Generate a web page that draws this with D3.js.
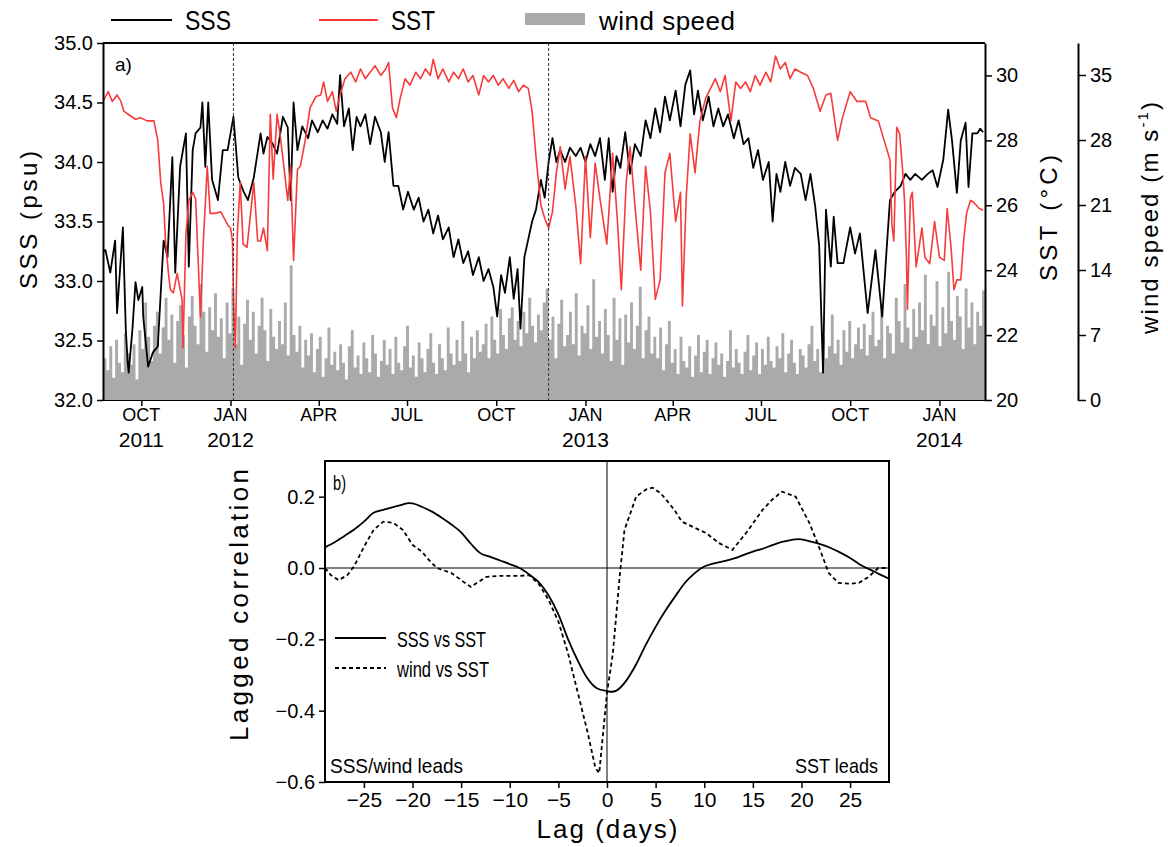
<!DOCTYPE html>
<html>
<head>
<meta charset="utf-8">
<script src="https://cdn.jsdelivr.net/npm/d3@7"></script>
<style>
body { margin: 0; background: #fff; }
text { font-family: "Liberation Sans", Arial, sans-serif; fill: #000; }
</style>
</head>
<body>
<svg id="chart" width="1168" height="847"></svg>
<script>
// ---- data: panel a (day offset from 2011-08-23, value) ----
const startDay = new Date(2011, 7, 23);

const sssObs = [
  [0,33.25],[2,33.26],[7,33.07],[12,33.34],[14,32.73],[20,33.45],[23,32.59],[25,32.31],[26,32.23],
  [30,32.61],[33,32.99],[36,32.84],[40,32.95],[41,32.70],[46,32.28],[51,32.40],[56,32.45],[62,33.34],
  [66,33.20],[71,34.04],[74,33.07],[79,33.96],[85,34.24],[88,33.12],[92,34.10],[95,34.24],[100,34.29],
  [102,34.50],[105,33.96],[108,34.50],[112,33.85],[118,33.68],[123,34.10],[128,34.10],[134,34.38],
  [139,33.87],[144,33.76],[149,33.68],[155,33.87],[162,34.24],[165,34.07],[169,34.21],[174,34.16],
  [179,34.07],[185,34.38],[190,34.29],[193,33.68],[196,34.50],[200,34.10],[205,34.30],[211,34.20],
  [215,34.35],[221,34.25],[226,34.35],[231,34.28],[236,34.40],[241,34.32],[244,34.73],[248,34.30],
  [253,34.45],[257,34.10],[261,34.38],[265,34.30],[270,34.40],[275,34.15],[280,34.38],[286,34.25],
  [290,34.00],[294,34.25],[299,33.80],[304,33.80],[309,33.60],[314,33.75],[320,33.60],[325,33.70],
  [330,33.50],[335,33.60],[340,33.40],[345,33.55],[350,33.35],[356,33.45],[361,33.20],[366,33.35],
  [371,33.15],[376,33.25],[381,33.05],[387,33.20],[392,33.00],[397,33.10],[402,32.95],[406,32.70],
  [410,33.05],[414,32.90],[419,33.20],[423,32.85],[427,33.10],[430,32.60],[434,33.20],[438,33.35],
  [442,33.50],[446,33.60],[451,33.85],[455,33.70],[459,34.00],[463,34.20],[467,34.00],[471,34.10],
  [476,34.00],[481,34.12],[487,34.05],[492,34.12],[497,34.00],[502,34.15],[507,34.05],[512,34.20],
  [517,33.85],[521,34.20],[525,33.75],[529,34.05],[533,33.95],[538,34.25],[543,33.90],[548,34.15],
  [554,34.05],[559,34.35],[564,34.20],[569,34.45],[574,34.25],[579,34.55],[584,34.35],[590,34.60],
  [595,34.30],[600,34.65],[605,34.77],[609,34.40],[613,34.60],[618,34.35],[624,34.55],[629,34.30],
  [634,34.45],[639,34.30],[644,34.40],[650,34.20],[655,34.35],[660,34.15],[665,34.20],[670,33.95],
  [675,34.10],[680,33.85],[686,34.00],[690,33.50],[694,33.90],[698,33.75],[703,34.00],[708,33.80],
  [713,33.95],[719,33.90],[724,33.68],[729,33.90],[734,33.62],[738,33.30],[742,32.23],[745,33.60],
  [750,33.12],[753,33.54],[757,33.15],[763,33.15],[770,33.45],[775,33.23],[780,33.40],[788,32.73],
  [796,33.26],[803,32.70],[808,33.32],[811,33.68],[816,33.75],[822,33.80],[827,33.90],[832,33.85],
  [837,33.90],[844,33.85],[850,33.90],[855,33.93],[860,33.79],[866,34.02],[871,34.44],[875,34.18],
  [880,33.74],[884,34.18],[889,34.33],[892,33.79],[896,34.24],[901,34.24],[904,34.28],[907,34.25]
];

const sstObs = [
  [0,29.23],[5,29.50],[9,29.20],[14,29.40],[18,29.20],[21,28.90],[28,28.75],[33,28.65],[38,28.70],
  [45,28.60],[48,28.60],[52,28.60],[56,28.00],[59,26.70],[62,26.06],[64,24.90],[67,23.90],[69,23.40],
  [72,23.30],[76,23.90],[81,23.10],[82,21.60],[85,25.10],[88,26.15],[92,26.40],[95,26.20],[100,22.55],
  [103,24.90],[107,27.20],[110,25.75],[115,25.75],[121,25.80],[128,25.40],[131,25.30],[133,24.90],
  [134,23.10],[136,21.60],[138,25.10],[141,26.70],[144,24.80],[148,24.70],[155,26.70],[159,24.90],
  [162,24.90],[165,25.30],[169,24.60],[172,28.80],[175,26.80],[179,28.80],[182,28.20],[186,27.20],
  [190,26.15],[193,27.20],[196,24.30],[200,27.10],[203,27.20],[208,28.00],[213,29.00],[219,29.35],
  [224,29.40],[227,29.80],[231,29.20],[236,29.50],[240,28.90],[244,29.40],[249,29.90],[255,30.10],
  [260,29.80],[265,30.20],[270,29.90],[275,30.10],[280,30.30],[286,30.00],[291,30.20],[294,30.40],
  [298,29.00],[302,28.70],[306,29.30],[311,29.90],[316,29.70],[322,30.10],[327,29.90],[332,30.20],
  [337,30.00],[340,30.50],[345,29.90],[350,30.20],[356,29.80],[361,30.10],[366,29.90],[371,30.20],
  [376,29.80],[381,30.00],[387,29.40],[392,30.00],[397,29.80],[402,30.00],[407,29.70],[412,29.90],
  [418,29.60],[423,29.85],[428,29.50],[433,29.70],[438,29.60],[442,28.90],[446,27.50],[451,26.00],
  [455,25.60],[459,25.30],[463,25.80],[467,27.00],[471,27.80],[476,26.50],[481,27.50],[487,26.00],
  [492,24.20],[497,27.50],[502,25.00],[507,27.30],[512,26.20],[519,24.80],[525,27.60],[530,25.50],
  [534,23.40],[539,26.70],[543,27.80],[548,26.00],[554,24.00],[559,27.20],[564,25.80],[569,23.10],
  [574,23.70],[579,27.00],[584,27.60],[590,25.50],[595,26.40],[597,22.90],[601,26.30],[605,28.20],
  [610,27.00],[615,28.60],[621,29.30],[626,29.60],[631,29.90],[636,29.50],[641,30.00],[647,28.60],
  [652,29.80],[657,29.60],[662,29.80],[667,29.50],[672,30.00],[677,29.70],[683,30.10],[688,29.80],
  [693,30.60],[698,30.20],[703,30.40],[708,29.90],[713,30.20],[719,30.10],[726,30.00],[732,29.60],
  [739,28.90],[745,29.40],[750,29.45],[757,28.00],[762,28.70],[770,29.50],[777,29.20],[786,29.20],
  [791,28.70],[799,28.60],[804,28.10],[811,27.40],[813,25.40],[815,24.90],[818,28.40],[821,28.20],
  [824,27.10],[826,26.15],[828,24.40],[829,22.80],[832,26.20],[834,26.40],[838,24.10],[844,25.30],
  [847,24.40],[852,24.20],[857,25.50],[862,24.40],[867,24.30],[870,25.90],[874,24.70],[877,23.40],
  [880,23.70],[884,23.70],[887,24.90],[890,25.75],[894,26.15],[897,26.10],[903,25.90],[907,25.85]
];

// wind speed, one value per 3 days from 2011-08-23
const windStep = 3;
const wind = [
  4.5,3.2,5.8,2.4,6.5,4.0,3.0,7.2,5.1,3.8,
  6.0,2.2,7.5,5.5,10.5,6.8,4.2,8.0,9.5,5.0,
  7.8,11.0,6.5,9.2,4.0,8.5,10.2,7.0,3.5,9.0,
  11.2,8.0,6.0,12.5,9.5,5.2,10.0,7.5,11.5,6.8,
  8.8,4.5,10.5,7.2,12.0,6.0,9.0,3.8,8.2,10.8,
  6.5,9.5,5.0,8.0,11.0,7.5,4.2,9.8,6.8,5.5,
  8.5,6.0,10.5,4.8,14.5,7.0,5.2,8.0,3.5,6.5,
  4.8,7.2,3.0,5.5,6.8,2.5,4.5,7.8,3.8,5.2,
  3.2,6.0,4.0,2.2,5.8,7.5,3.5,4.8,2.8,6.2,
  4.5,3.0,7.0,5.0,2.5,4.2,6.5,3.8,5.5,2.8,
  6.8,4.0,3.2,5.8,8.0,3.5,4.8,2.5,6.2,4.5,
  3.0,5.5,7.2,4.0,2.8,6.0,4.5,3.2,7.8,5.0,
  3.8,6.5,4.2,8.5,5.0,3.0,6.8,4.5,7.5,5.2,
  6.0,8.2,4.5,9.0,6.5,5.0,9.8,7.0,5.5,8.8,
  10.0,6.5,8.5,5.8,9.5,7.2,11.0,8.0,6.2,9.2,
  7.5,10.5,12.0,6.5,9.0,4.5,8.2,10.8,5.8,7.0,
  9.5,6.0,11.5,4.8,8.0,7.2,10.2,5.5,13.0,6.8,
  8.5,5.0,9.8,7.0,4.2,11.0,6.5,8.8,3.8,9.2,
  6.2,10.5,5.5,8.0,12.2,4.5,7.5,9.0,5.0,6.8,
  4.5,7.8,3.2,6.0,8.5,4.0,5.5,2.8,6.8,4.2,
  3.5,5.8,2.5,4.8,7.0,3.0,5.2,6.5,2.8,4.5,
  6.2,3.8,5.0,2.5,4.2,7.5,3.5,5.5,4.0,2.8,
  5.2,7.0,3.2,4.8,6.2,2.8,5.5,3.8,6.8,4.2,
  3.5,5.8,4.5,7.2,3.0,5.0,6.5,4.0,2.8,5.5,
  4.8,3.5,6.0,8.0,4.2,5.5,3.0,6.8,4.5,5.8,
  9.2,5.0,6.5,3.8,7.5,5.2,8.5,4.5,6.0,7.8,
  5.5,8.2,4.8,7.0,9.5,5.8,6.5,10.2,4.5,8.0,
  7.2,5.0,11.0,8.5,6.2,12.5,7.8,5.5,9.8,6.8,
  10.5,7.5,13.5,6.0,9.2,8.0,12.8,5.8,10.0,7.2,
  13.8,8.5,6.5,11.2,9.0,5.5,12.0,7.8,10.5,6.0,
  9.5,8.0,11.8
];

const eventDates = ["2012-01-04", "2012-11-24"];

const sssTicks = [32.0, 32.5, 33.0, 33.5, 34.0, 34.5, 35.0];
const sstTicks = [20, 22, 24, 26, 28, 30];
const windTicks = [0, 7, 14, 21, 28, 35];
const monthNames = ["JAN","FEB","MAR","APR","MAY","JUN","JUL","AUG","SEP","OCT","NOV","DEC"];

// ---- data: panel b (lag in days, correlation) ----
const sssVsSst = [
  [-29,0.058],[-28,0.072],[-27,0.090],[-26,0.108],[-25,0.130],[-24,0.155],[-23,0.163],[-22,0.171],
  [-21,0.178],[-20.4,0.182],[-20,0.181],[-19,0.171],[-18,0.158],[-17,0.141],[-16,0.122],[-15,0.100],
  [-14,0.068],[-13,0.041],[-12,0.031],[-11,0.021],[-10,0.011],[-9,0.000],[-8,-0.018],[-7,-0.040],
  [-6,-0.077],[-5,-0.130],[-4,-0.200],[-3,-0.260],[-2,-0.310],[-1,-0.338],[0,-0.345],[0.5,-0.347],
  [1,-0.343],[2,-0.315],[3,-0.270],[4,-0.215],[5,-0.165],[6,-0.120],[7,-0.080],[8,-0.042],[9,-0.015],
  [10,0.004],[11,0.013],[12,0.019],[13,0.026],[14,0.036],[15,0.046],[16,0.054],[17,0.064],[18,0.073],
  [19,0.079],[19.6,0.081],[20,0.080],[21,0.074],[22,0.066],[23,0.056],[24,0.043],[25,0.028],[26,0.010],
  [27,-0.004],[28,-0.017],[29,-0.030]
];
const windVsSst = [
  [-29,0.000],[-28.4,-0.020],[-27.6,-0.034],[-26.7,-0.020],[-26,0.005],[-25,0.059],[-24,0.107],
  [-23,0.130],[-22,0.127],[-21,0.107],[-20,0.065],[-19,0.045],[-18.5,0.028],[-17.5,0.000],[-16,-0.014],
  [-15,-0.034],[-14,-0.053],[-13.4,-0.042],[-12.4,-0.025],[-11,-0.022],[-9,-0.022],[-8,-0.020],
  [-7,-0.045],[-6,-0.090],[-5,-0.150],[-4,-0.240],[-3,-0.350],[-2,-0.460],[-1.2,-0.560],[-0.8,-0.575],
  [0,-0.350],[0.6,-0.240],[1.3,-0.025],[1.8,0.107],[3,0.200],[4,0.220],[4.7,0.225],[5.5,0.210],
  [6.1,0.191],[7,0.160],[7.7,0.130],[9,0.113],[10.2,0.098],[11.5,0.070],[12.9,0.051],[14.3,0.098],
  [16,0.163],[17,0.192],[18,0.214],[19.4,0.200],[20.8,0.127],[21.8,0.059],[22.8,-0.014],[23.8,-0.042],
  [25,-0.044],[25.9,-0.042],[26.9,-0.025],[27.9,0.000],[29,0.000]
];
const lagTicks = [-25,-20,-15,-10,-5,0,5,10,15,20,25];
const corrTicks = [-0.6,-0.4,-0.2,0.0,0.2];

// ---- drawing ----
const svg = d3.select("#chart");
const day = d => d3.timeDay.offset(startDay, d);

// panel a
const A = {left: 103, right: 985, top: 43, bottom: 400};
const x = d3.scaleTime()
  .domain([new Date(2011, 7, 22, 12), new Date(2014, 1, 17)])
  .range([A.left, A.right]);
const ySss = d3.scaleLinear().domain([32, 35]).range([A.bottom, A.top]);
const ySst = d3.scaleLinear().domain([20, 31]).range([A.bottom, A.top]);
const yWind = d3.scaleLinear().domain([0, 357 / 65 * 7]).range([A.bottom, A.top]);

svg.append("clipPath").attr("id", "clipA").append("rect")
  .attr("x", A.left).attr("y", A.top).attr("width", A.right - A.left).attr("height", A.bottom - A.top);

const pa = svg.append("g");
// frame
pa.append("line").attr("x1", A.left).attr("x2", A.right).attr("y1", A.top).attr("y2", A.top)
  .attr("stroke", "#000").attr("stroke-width", 2);
pa.append("line").attr("x1", A.left).attr("x2", A.right).attr("y1", A.bottom).attr("y2", A.bottom)
  .attr("stroke", "#000").attr("stroke-width", 2);

const windPts = wind.map((v, i) => [i * windStep, v]);
windPts.push([wind.length * windStep, wind[wind.length - 1]]);
const plot = pa.append("g").attr("clip-path", "url(#clipA)");
plot.append("path").datum(windPts)
  .attr("fill", "#aaaaaa")
  .attr("d", d3.area().curve(d3.curveStepAfter)
    .x(d => x(day(d[0]))).y0(A.bottom).y1(d => yWind(d[1])));

plot.append("path").datum(sssObs)
  .attr("fill", "none").attr("stroke", "#000").attr("stroke-width", 1.8).attr("stroke-linejoin", "round")
  .attr("d", d3.line().x(d => x(day(d[0]))).y(d => ySss(d[1])));
plot.append("path").datum(sstObs)
  .attr("fill", "none").attr("stroke", "#f73b3b").attr("stroke-width", 1.6).attr("stroke-linejoin", "round")
  .attr("d", d3.line().x(d => x(day(d[0]))).y(d => ySst(d[1])));

pa.selectAll(".ev").data(eventDates).join("line")
  .attr("x1", d => x(new Date(d))).attr("x2", d => x(new Date(d)))
  .attr("y1", A.top).attr("y2", A.bottom)
  .attr("stroke", "#333").attr("stroke-width", 1).attr("stroke-dasharray", "3,2");

function styleAxis(g, size) {
  g.selectAll("path.domain").attr("stroke-width", 2);
  g.selectAll(".tick line").attr("stroke-width", 1.5);
  g.selectAll(".tick text").attr("font-size", size).attr("font-family", "Liberation Sans, Arial, sans-serif").attr("fill", "#000");
}

pa.append("g").attr("transform", `translate(${A.left},0)`)
  .call(d3.axisLeft(ySss).tickValues(sssTicks).tickFormat(d3.format(".1f")).tickSize(6).tickSizeOuter(0).tickPadding(4))
  .call(g => styleAxis(g, 20));
pa.append("g").attr("transform", `translate(${A.right},0)`)
  .call(d3.axisRight(ySst).tickValues(sstTicks).tickSize(7).tickSizeOuter(0).tickPadding(4))
  .call(g => styleAxis(g, 20));
pa.append("g").attr("transform", `translate(1078,0)`)
  .call(d3.axisRight(yWind).tickValues(windTicks).tickSize(8).tickSizeOuter(0).tickPadding(4))
  .call(g => styleAxis(g, 20));

const monthTicks = d3.timeMonth.every(3).range(new Date(2011, 8, 1), new Date(2014, 1, 17));
const xa = pa.append("g").attr("transform", `translate(0,${A.bottom})`)
  .call(d3.axisBottom(x).tickValues(monthTicks).tickFormat("").tickSize(6).tickSizeOuter(0));
xa.select("path.domain").remove();
xa.selectAll(".tick line").attr("stroke-width", 1.5);
monthTicks.forEach((t, i) => {
  pa.append("text").attr("x", x(t)).attr("y", 421).attr("text-anchor", "middle")
    .attr("font-size", 18).text(monthNames[t.getMonth()]);
  if (t.getMonth() === 0 || i === 0) {
    pa.append("text").attr("x", x(t)).attr("y", 447).attr("text-anchor", "middle")
      .attr("font-size", 21).text(t.getFullYear());
  }
});

pa.append("text").attr("x", 115).attr("y", 71).attr("font-size", 19).attr("fill", "#222").text("a)");

svg.append("text").attr("transform", "translate(37,220) rotate(-90)").attr("text-anchor", "middle")
  .attr("font-size", 24).attr("textLength", 138).attr("lengthAdjust", "spacing").text("SSS (psu)");
svg.append("text").attr("transform", "translate(1057,218) rotate(-90)").attr("text-anchor", "middle")
  .attr("font-size", 24).attr("textLength", 126).attr("lengthAdjust", "spacing").text("SST (°C)");
const wl = svg.append("text").attr("transform", "translate(1158,218) rotate(-90)").attr("text-anchor", "middle")
  .attr("font-size", 24).attr("textLength", 232).attr("lengthAdjust", "spacing");
wl.append("tspan").text("wind speed (m s");
wl.append("tspan").attr("font-size", 15).attr("dy", -10).text("-1");
wl.append("tspan").attr("dy", 10).text(")");

// legend
const lg = svg.append("g");
lg.append("line").attr("x1", 111).attr("x2", 172).attr("y1", 20).attr("y2", 20).attr("stroke", "#000").attr("stroke-width", 2);
lg.append("text").attr("x", 185).attr("y", 30).attr("font-size", 27).attr("textLength", 46).attr("lengthAdjust", "spacingAndGlyphs").text("SSS");
lg.append("line").attr("x1", 319).attr("x2", 378).attr("y1", 20).attr("y2", 20).attr("stroke", "#f73b3b").attr("stroke-width", 2);
lg.append("text").attr("x", 391).attr("y", 30).attr("font-size", 27).attr("textLength", 44).attr("lengthAdjust", "spacingAndGlyphs").text("SST");
lg.append("rect").attr("x", 525).attr("y", 13).attr("width", 60).attr("height", 12).attr("fill", "#aaaaaa");
lg.append("text").attr("x", 599).attr("y", 30).attr("font-size", 26).attr("textLength", 136).attr("lengthAdjust", "spacing").text("wind speed");

// panel b
const B = {left: 325, right: 889, top: 461, bottom: 782};
const xl = d3.scaleLinear().domain([-29, 29]).range([B.left, B.right]);
const yr = d3.scaleLinear().domain([-0.6, 0.3]).range([B.bottom, B.top]);
const pb = svg.append("g");

pb.append("line").attr("x1", B.left).attr("x2", B.right).attr("y1", yr(0)).attr("y2", yr(0)).attr("stroke", "#000").attr("stroke-width", 1);
pb.append("line").attr("x1", xl(0)).attr("x2", xl(0)).attr("y1", B.top).attr("y2", B.bottom).attr("stroke", "#000").attr("stroke-width", 1);

pb.append("path").datum(sssVsSst)
  .attr("fill", "none").attr("stroke", "#000").attr("stroke-width", 1.8)
  .attr("d", d3.line().curve(d3.curveMonotoneX).x(d => xl(d[0])).y(d => yr(d[1])));
pb.append("path").datum(windVsSst)
  .attr("fill", "none").attr("stroke", "#000").attr("stroke-width", 1.8).attr("stroke-dasharray", "4,3")
  .attr("d", d3.line().x(d => xl(d[0])).y(d => yr(d[1])));

pb.append("rect").attr("x", B.left).attr("y", B.top).attr("width", B.right - B.left).attr("height", B.bottom - B.top)
  .attr("fill", "none").attr("stroke", "#000").attr("stroke-width", 2);

pb.append("g").attr("transform", `translate(${B.left},0)`)
  .call(d3.axisLeft(yr).tickValues(corrTicks).tickFormat(d3.format(".1f")).tickSize(6).tickSizeOuter(0).tickPadding(4))
  .call(g => { g.select("path.domain").remove(); styleAxis(g, 20); });
pb.append("g").attr("transform", `translate(0,${B.bottom})`)
  .call(d3.axisBottom(xl).tickValues(lagTicks).tickSize(6).tickSizeOuter(0).tickPadding(4))
  .call(g => { g.select("path.domain").remove(); styleAxis(g, 21); });

pb.append("text").attr("x", 333).attr("y", 490).attr("font-size", 20).attr("fill", "#222")
  .attr("textLength", 13).attr("lengthAdjust", "spacingAndGlyphs").text("b)");

// panel b legend
pb.append("line").attr("x1", 335).attr("x2", 386).attr("y1", 638).attr("y2", 638).attr("stroke", "#000").attr("stroke-width", 1.8);
pb.append("text").attr("x", 397).attr("y", 647).attr("font-size", 22).attr("fill", "#222")
  .attr("textLength", 89).attr("lengthAdjust", "spacingAndGlyphs").text("SSS vs SST");
pb.append("line").attr("x1", 335).attr("x2", 386).attr("y1", 668).attr("y2", 668).attr("stroke", "#000").attr("stroke-width", 1.8).attr("stroke-dasharray", "4,3");
pb.append("text").attr("x", 397).attr("y", 677).attr("font-size", 22).attr("fill", "#222")
  .attr("textLength", 92).attr("lengthAdjust", "spacingAndGlyphs").text("wind vs SST");

pb.append("text").attr("x", 330).attr("y", 773).attr("font-size", 21).attr("fill", "#222")
  .attr("textLength", 133).attr("lengthAdjust", "spacingAndGlyphs").text("SSS/wind leads");
pb.append("text").attr("x", 878).attr("y", 773).attr("font-size", 21).attr("fill", "#222").attr("text-anchor", "end")
  .attr("textLength", 83).attr("lengthAdjust", "spacingAndGlyphs").text("SST leads");

svg.append("text").attr("transform", "translate(248,605) rotate(-90)").attr("text-anchor", "middle")
  .attr("font-size", 26).attr("textLength", 272).attr("lengthAdjust", "spacing").text("Lagged correlation");
svg.append("text").attr("x", 607).attr("y", 838).attr("text-anchor", "middle")
  .attr("font-size", 26).attr("textLength", 141).attr("lengthAdjust", "spacing").text("Lag (days)");
</script>
</body>
</html>
